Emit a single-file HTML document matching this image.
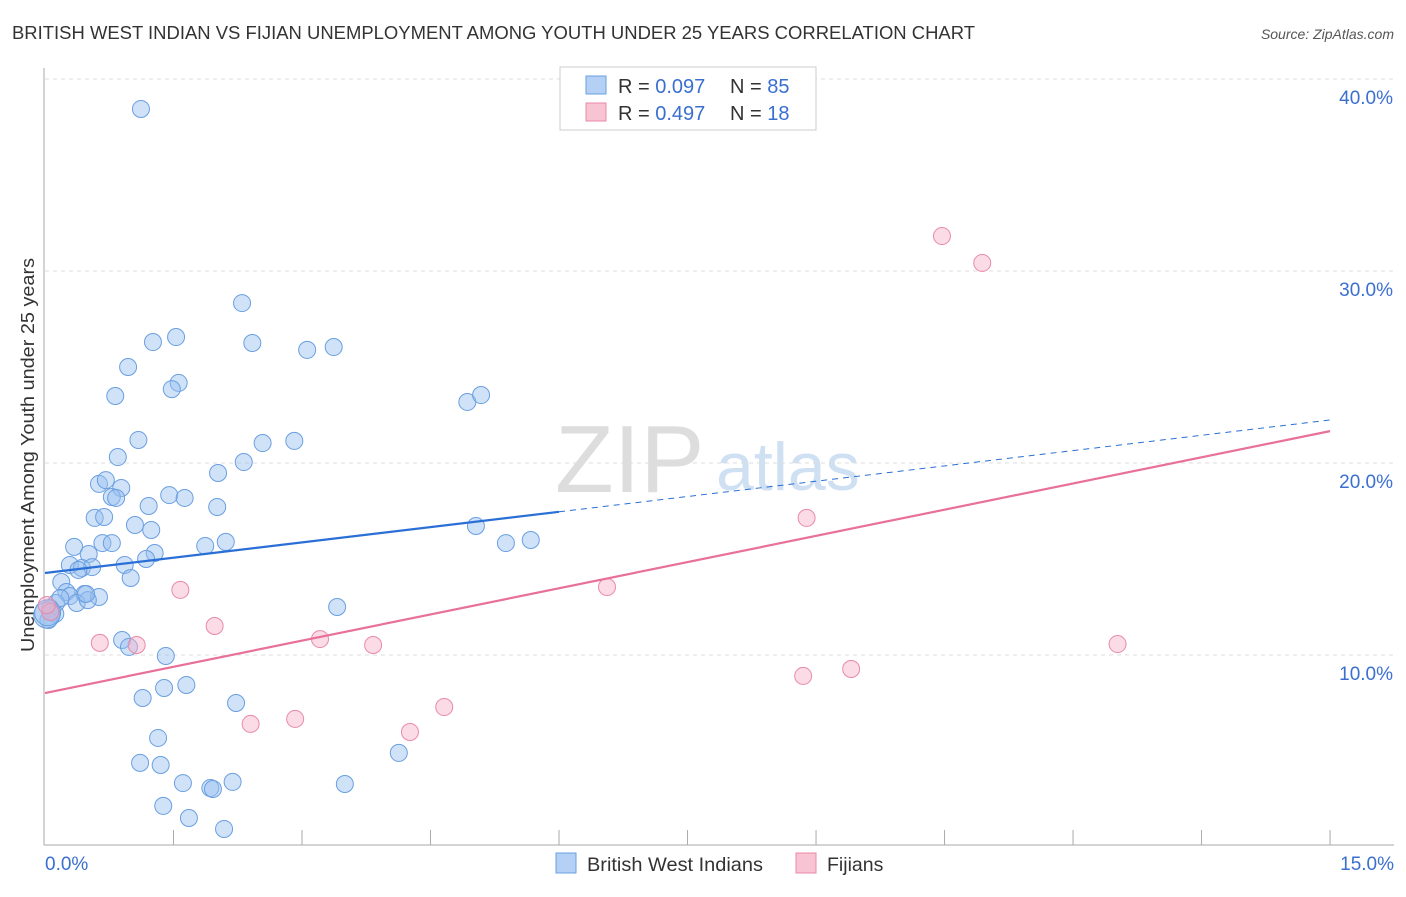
<!DOCTYPE html>
<html><head><meta charset="utf-8"><style>
body{margin:0;background:#fff;font-family:"Liberation Sans",sans-serif;}
svg text{font-family:"Liberation Sans",sans-serif;}
</style></head><body>
<svg id="chart" width="1406" height="892">
<text x="12" y="39" font-size="18" fill="#333" textLength="963" lengthAdjust="spacingAndGlyphs">BRITISH WEST INDIAN VS FIJIAN UNEMPLOYMENT AMONG YOUTH UNDER 25 YEARS CORRELATION CHART</text>
<text x="1394" y="39" font-size="14" fill="#555" font-style="italic" text-anchor="end">Source: ZipAtlas.com</text>
<text transform="translate(34,652) rotate(-90)" font-size="18" fill="#333" textLength="394" lengthAdjust="spacingAndGlyphs">Unemployment Among Youth under 25 years</text>
<g><text x="555" y="492" font-size="96" font-family="Liberation Serif" fill="#ddd">ZIP</text><text x="716" y="490" font-size="68" fill="#cfe0f3">atlas</text></g>
<g id="grid"></g><g id="marks"></g>
<g>
<rect x="560" y="67" width="256" height="63" fill="#fff" stroke="#ccc"/>
<rect x="586" y="76" width="20" height="18" fill="#b4d0f4" stroke="#6a9fe0"/>
<rect x="586" y="103" width="20" height="18" fill="#f8c4d4" stroke="#e88aa8"/>
<text x="618" y="93" font-size="20" fill="#333">R = <tspan fill="#3a6fd0">0.097</tspan></text>
<text x="730" y="93" font-size="20" fill="#333">N = <tspan fill="#3a6fd0">85</tspan></text>
<text x="618" y="120" font-size="20" fill="#333">R = <tspan fill="#3a6fd0">0.497</tspan></text>
<text x="730" y="120" font-size="20" fill="#333">N = <tspan fill="#3a6fd0"> 18</tspan></text>
</g>
<g>
<rect x="556" y="853" width="20" height="20" fill="#b4d0f4" stroke="#6a9fe0"/>
<text x="587" y="871" font-size="19.5" fill="#333" textLength="176" lengthAdjust="spacingAndGlyphs">British West Indians</text>
<rect x="796" y="853" width="20" height="20" fill="#f8c4d4" stroke="#e88aa8"/>
<text x="827" y="871" font-size="19.5" fill="#333">Fijians</text>
</g>
</svg>
<script>
const blueX=[1.12,2.30,1.26,1.53,2.42,3.06,3.37,0.97,1.56,1.48,0.82,4.93,5.09,1.09,2.91,2.54,0.85,2.32,2.02,0.63,0.71,0.89,0.78,0.83,1.45,1.63,1.21,2.01,0.58,0.69,1.05,1.24,5.03,5.38,5.67,0.34,0.67,0.78,1.87,2.11,1.28,0.51,1.18,0.29,0.43,0.55,0.39,0.93,1.0,0.19,0.25,0.29,0.46,0.63,0.13,0.37,0.06,0.08,0.12,3.41,0.90,0.98,1.41,1.14,1.39,1.65,2.23,1.32,1.11,1.35,4.13,1.61,2.19,3.50,1.93,1.96,1.38,1.68,2.09,0.04,0.18,0.50,0.48,0.02,0.03];
const blueY=[38.44,28.33,26.30,26.56,26.25,25.89,26.04,25.0,24.17,23.85,23.49,23.18,23.54,21.20,21.15,21.04,20.31,20.05,19.48,18.91,19.11,18.70,18.23,18.18,18.33,18.18,17.76,17.71,17.14,17.19,16.77,16.51,16.72,15.83,15.99,15.63,15.83,15.83,15.68,15.89,15.31,15.26,15.0,14.69,14.53,14.58,14.43,14.69,14.01,13.80,13.28,13.07,13.18,13.02,12.71,12.71,12.45,12.24,12.14,12.5,10.78,10.42,9.95,7.76,8.28,8.44,7.5,5.68,4.38,4.27,4.90,3.33,3.39,3.28,3.07,3.02,2.14,1.51,0.94,11.82,12.97,12.86,13.18,12.08,12.2];
const pinkX=[10.47,10.94,8.89,1.58,6.56,1.98,0.64,1.07,3.21,3.83,12.52,9.41,8.85,4.66,2.92,2.40,4.26,0.06,0.02];
const pinkY=[31.82,30.42,17.14,13.39,13.54,11.51,10.63,10.52,10.83,10.52,10.57,9.27,8.91,7.29,6.67,6.41,5.99,12.24,12.60];
const blueTrend=[14.27,22.24];
const pinkTrend=[8.02,21.66];
const yTicks=[10,20,30,40];
const xTickCount=10;
const X=v=>45+v*85.67, Y=v=>847-v*19.2;
const NS="http://www.w3.org/2000/svg";
const grid=document.getElementById('grid'), marks=document.getElementById('marks');
function mk(p,tag,a){const e=document.createElementNS(NS,tag);for(const k in a)e.setAttribute(k,a[k]);p.appendChild(e);return e;}
yTicks.forEach(t=>{
 const l=mk(grid,'line',{x1:45,x2:1394,y1:Y(t),y2:Y(t),stroke:'#ddd','stroke-dasharray':'4,4'});
 
 
 const tx=mk(grid,'text',{x:1393,y:Y(t)+25,'font-size':19,fill:'#3a6fd0','text-anchor':'end'});tx.textContent=t.toFixed(1)+'%';
 
 
});
const ax=mk(grid,'line',{x1:44,x2:1394,y1:845,y2:845,stroke:'#aaa'});


const ay=mk(grid,'line',{x1:44,x2:44,y1:68,y2:845,stroke:'#aaa'});


for(let i=1;i<=xTickCount;i++){const l=mk(grid,'line',{x1:X(i*1.5),x2:X(i*1.5),y1:830,y2:845,stroke:'#aaa'});
 
 }
const x0=mk(grid,'text',{x:45,y:870,'font-size':19,fill:'#3a6fd0'});x0.textContent='0.0%';


const x1=mk(grid,'text',{x:1394,y:870,'font-size':19,fill:'#3a6fd0','text-anchor':'end'});x1.textContent='15.0%';


blueX.forEach((v,i)=>{const r=(i>=blueX.length-2)?13:8.5;const c=mk(marks,'circle',{cx:X(v),cy:Y(blueY[i]),r:r,fill:'rgba(150,190,240,0.45)',stroke:'#6a9fe0','stroke-width':1});
 
 });
pinkX.forEach((v,i)=>{const c=mk(marks,'circle',{cx:X(v),cy:Y(pinkY[i]),r:8.5,fill:'rgba(245,175,200,0.45)',stroke:'#e88aa8','stroke-width':1});
 
 });
const bAt=x=>blueTrend[0]+(blueTrend[1]-blueTrend[0])*x/15;
const b1=mk(marks,'line',{x1:X(0),y1:Y(bAt(0)),x2:X(6),y2:Y(bAt(6)),stroke:'#2a6fd6','stroke-width':2.2});


const b2=mk(marks,'line',{x1:X(6),y1:Y(bAt(6)),x2:X(15),y2:Y(bAt(15)),stroke:'#2a6fd6','stroke-width':1,'stroke-dasharray':'6,5'});


const p1=mk(marks,'line',{x1:X(0),y1:Y(pinkTrend[0]),x2:X(15),y2:Y(pinkTrend[1]),stroke:'#e8709a','stroke-width':2.2});


</script>
</body></html>
